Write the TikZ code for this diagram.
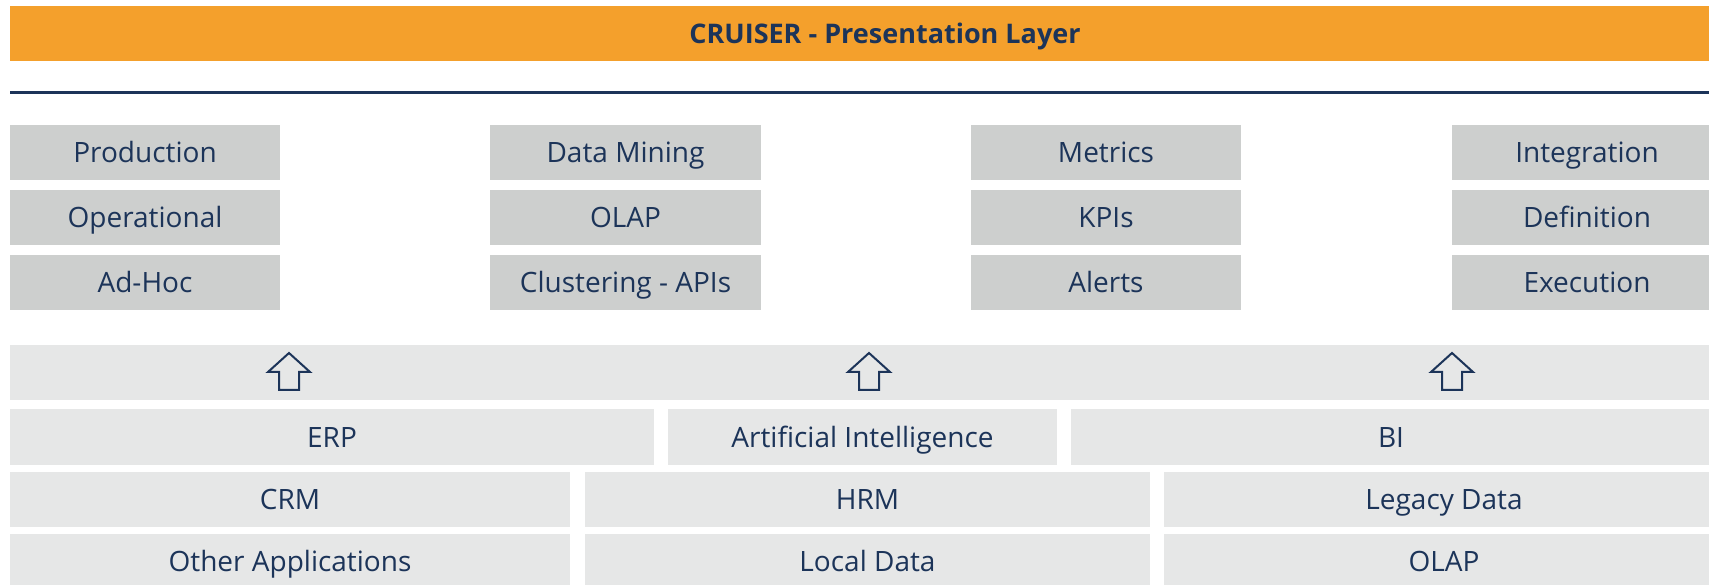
\documentclass[tikz,border=0pt]{standalone}
\usepackage{fontspec}
\setmainfont{Open Sans}
\definecolor{orangebar}{HTML}{F4A02C}
\definecolor{navy}{HTML}{1C3459}
\definecolor{topgray}{HTML}{CDCFCE}
\definecolor{lowgray}{HTML}{E6E7E7}
\tikzset{
  txt/.style={text=navy, font=\fontsize{28}{30}\selectfont, text height=20pt, text depth=0pt},
  topbox/.style={txt, fill=topgray, inner sep=0pt, minimum height=55pt},
  lowbox/.style={txt, fill=lowgray, inner sep=0pt},
  uparrow/.style={draw=navy, line width=2pt, fill=lowgray, line join=miter},
}
\begin{document}
\begin{tikzpicture}[x=1pt,y=-1pt]
\clip (0,0) rectangle (1709,585);
\useasboundingbox (0,0) rectangle (1709,585);
\fill[white] (0,0) rectangle (1709,585);
% title bar
\node[fill=orangebar, inner sep=0pt, minimum width=1750pt, minimum height=55pt, text=navy, font=\fontsize{27}{30}\selectfont\bfseries, text height=19.3pt, text depth=0pt] (title) at (885,33.5) {CRUISER - Presentation Layer};
% rule
\coordinate (ruleL) at (10,92.5);
\coordinate (ruleR) at (1760,92.5);
\draw[navy, line width=2.5pt] (ruleL) -- (ruleR);
% top boxes
\node[topbox, minimum width=270pt] (prod) at (145,152.5) {Production};
\node[topbox, minimum width=270pt] (oper) at (145,217.5) {Operational};
\node[topbox, minimum width=270pt] (adhoc) at (145,282.5) {Ad-Hoc};
\node[topbox, minimum width=271pt] (dm) at (625.5,152.5) {Data Mining};
\node[topbox, minimum width=271pt] (olap1) at (625.5,217.5) {OLAP};
\node[topbox, minimum width=271pt] (clus) at (625.5,282.5) {Clustering - APIs};
\node[topbox, minimum width=270pt] (metr) at (1106,152.5) {Metrics};
\node[topbox, minimum width=270pt] (kpi) at (1106,217.5) {KPIs};
\node[topbox, minimum width=270pt] (alert) at (1106,282.5) {Alerts};
\node[topbox, minimum width=270pt] (integ) at (1587,152.5) {Integration};
\node[topbox, minimum width=270pt] (defi) at (1587,217.5) {Definition};
\node[topbox, minimum width=270pt] (exec) at (1587,282.5) {Execution};
% arrow band
\node[lowbox, minimum width=1750pt, minimum height=55pt] (band) at (885,372.5) {};
\foreach \n/\cx in {a1/289, a2/869, a3/1452}{
  \coordinate (\n) at (\cx,371);
  \draw[uparrow] ([xshift=-10pt,yshift=-19pt]\n) -- ([xshift=-10pt,yshift=-1pt]\n) -- ([xshift=-21pt,yshift=-1pt]\n) -- ([yshift=18pt]\n) -- ([xshift=21pt,yshift=-1pt]\n) -- ([xshift=10pt,yshift=-1pt]\n) -- ([xshift=10pt,yshift=-19pt]\n) -- cycle;
}
% ERP row
\node[lowbox, minimum width=644pt, minimum height=56pt] (erp) at (332,437) {ERP};
\node[lowbox, minimum width=389pt, minimum height=56pt] (ai) at (862.5,437) {Artificial Intelligence};
\node[lowbox, minimum width=640pt, minimum height=56pt] (bi) at (1391,437) {BI};
% CRM row
\node[lowbox, minimum width=560pt, minimum height=55pt] (crm) at (290,499.5) {CRM};
\node[lowbox, minimum width=565pt, minimum height=55pt] (hrm) at (867.5,499.5) {HRM};
\node[lowbox, minimum width=560pt, minimum height=55pt] (legacy) at (1444,499.5) {Legacy Data};
% bottom row
\node[lowbox, minimum width=560pt, minimum height=55pt] (other) at (290,561.5) {Other Applications};
\node[lowbox, minimum width=565pt, minimum height=55pt] (local) at (867.5,561.5) {Local Data};
\node[lowbox, minimum width=560pt, minimum height=55pt] (olap2) at (1444,561.5) {OLAP};
\end{tikzpicture}
\end{document}
